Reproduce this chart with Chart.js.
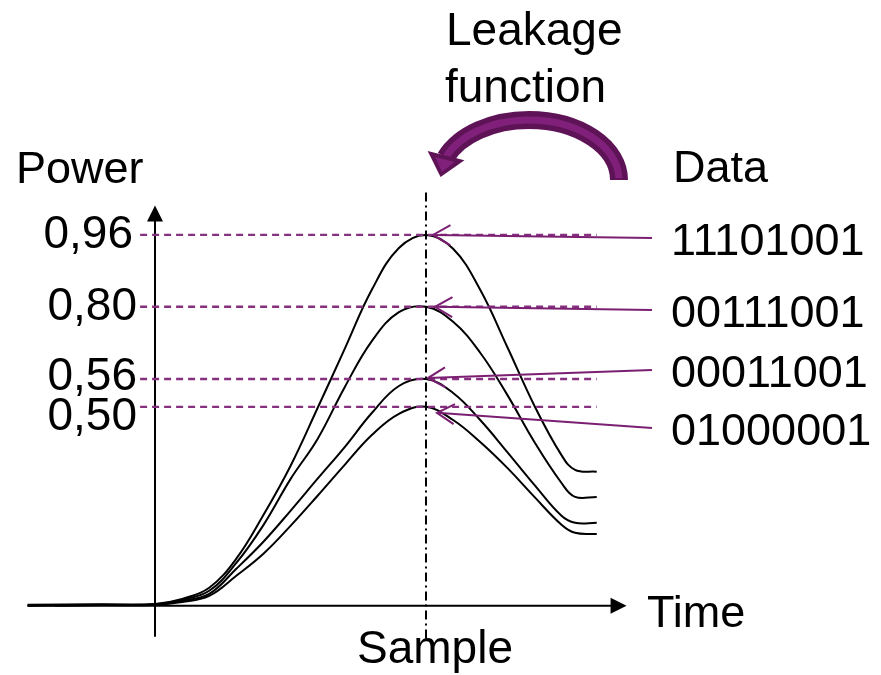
<!DOCTYPE html>
<html>
<head>
<meta charset="utf-8">
<script src="https://cdn.jsdelivr.net/npm/chart.js@4/dist/chart.umd.min.js"></script>
<style>
  body { margin: 0; background: #fff; }
  #leakage { display: block; }
</style>
</head>
<body>
<canvas id="leakage" width="881" height="675"></canvas>
<script>
// time axis (sample of interest at t = 10)
var time_points = [-4.7, -2, 0, 1, 2, 3, 4, 5, 6, 7, 8, 9, 10, 11, 12, 13, 14, 15, 15.5, 16.3];
// power traces, one per data value
var power_11101001 = [0.003, 0.004, 0.005, 0.018, 0.047, 0.122, 0.235, 0.362, 0.512, 0.665, 0.818, 0.926, 0.960, 0.924, 0.818, 0.670, 0.518, 0.390, 0.352, 0.347];
var power_00111001 = [0.001, 0.003, 0.004, 0.016, 0.039, 0.111, 0.209, 0.328, 0.432, 0.566, 0.685, 0.760, 0.774, 0.735, 0.655, 0.546, 0.424, 0.318, 0.282, 0.282];
var power_00011001 = [0.000, 0.002, 0.003, 0.013, 0.031, 0.096, 0.166, 0.246, 0.329, 0.411, 0.499, 0.569, 0.587, 0.551, 0.481, 0.398, 0.313, 0.233, 0.215, 0.215];
var power_01000001 = [0.000, 0.002, 0.003, 0.010, 0.026, 0.078, 0.135, 0.207, 0.285, 0.365, 0.442, 0.497, 0.515, 0.481, 0.424, 0.357, 0.282, 0.210, 0.189, 0.186];
var sample_time = 10;
var tick_labels = ["0,96", "0,80", "0,56", "0,50"];
var data_labels = ["11101001", "00111001", "00011001", "01000001"];

var purple = "#7b1f72";
var font = '"Liberation Sans", Arial, sans-serif';

var traces = [power_11101001, power_00111001, power_00011001, power_01000001];
var peaks = traces.map(function (t) { return t[time_points.indexOf(sample_time)]; });

var datasets = [];
// dashed level lines
for (let i = 0; i < peaks.length; i++) {
  datasets.push({
    data: [{ x: -0.55, y: peaks[i] }, { x: 16.3, y: peaks[i] }],
    borderColor: "#86307f",
    borderWidth: 2.4,
    borderDash: [7, 5],
    pointRadius: 0,
    tension: 0,
  });
}
// sample line
datasets.push({
  data: [{ x: sample_time, y: 1.07 }, { x: sample_time, y: -0.09 }],
  borderColor: "#000",
  borderWidth: 2,
  borderDash: [9, 4, 2, 4],
  pointRadius: 0,
  tension: 0,
});
for (let i = 0; i < traces.length; i++) {
  datasets.push({
    data: time_points.map(function (t, k) { return { x: t, y: traces[i][k] }; }),
    borderColor: "#000",
    borderWidth: 2,
    pointRadius: 0,
    tension: 0.4,
  });
}

function arrowHead(ctx, x, y, dx, dy, len, half) {
  var n = Math.sqrt(dx * dx + dy * dy);
  dx /= n; dy /= n;
  var bx = x - dx * len, by = y - dy * len;
  ctx.beginPath();
  ctx.moveTo(bx - dy * half, by + dx * half);
  ctx.lineTo(x, y);
  ctx.lineTo(bx + dy * half, by - dx * half);
  ctx.closePath();
  ctx.fill();
}

var decorations = {
  id: "decorations",
  beforeDatasetsDraw: function (chart) {
    var ctx = chart.ctx, xs = chart.scales.x, ys = chart.scales.y;
    var x0 = xs.getPixelForValue(0), y0 = ys.getPixelForValue(0);
    ctx.save();
    ctx.strokeStyle = "#000";
    ctx.fillStyle = "#000";
    ctx.lineWidth = 2;
    // power axis
    var yTop = ys.getPixelForValue(1.036);
    ctx.beginPath();
    ctx.moveTo(x0, ys.getPixelForValue(-0.08));
    ctx.lineTo(x0, yTop + 10);
    ctx.stroke();
    arrowHead(ctx, x0, yTop, 0, -1, 16, 8);
    // time axis
    var xEnd = xs.getPixelForValue(17.4);
    ctx.beginPath();
    ctx.moveTo(xs.getPixelForValue(-3.7), y0);
    ctx.lineTo(xEnd - 10, y0);
    ctx.stroke();
    arrowHead(ctx, xEnd, y0, 1, 0, 16, 8);
    ctx.restore();
  },
  afterDraw: function (chart) {
    var ctx = chart.ctx, ys = chart.scales.y;
    var sx = chart.scales.x.getPixelForValue(sample_time);
    ctx.save();
    ctx.fillStyle = "#000";
    ctx.font = "45px " + font;
    ctx.textAlign = "left";
    ctx.textBaseline = "alphabetic";
    ctx.fillText("Power", 16, 183);
    ctx.fillText("Data", 673, 182);
    ctx.fillText("Time", 647, 627);
    ctx.font = "46px " + font;
    ctx.fillText("Sample", 357, 663);
    ctx.fillText("Leakage", 446, 45);
    ctx.fillText("function", 445, 102);

    // level labels
    var tickShift = [13, 13, 11, 23];
    ctx.font = "46px " + font;
    ctx.textAlign = "right";
    for (let i = 0; i < tick_labels.length; i++) {
      ctx.fillText(tick_labels[i], i == 0 ? 133 : 137, ys.getPixelForValue(peaks[i]) + tickShift[i]);
    }

    // data labels with arrows to the peaks
    var labelBase = [255, 327, 387, 445];
    var tipShift = [[7, 0], [9, 0], [2, -1], [11, 6]];
    ctx.font = "45px " + font;
    ctx.textAlign = "left";
    ctx.strokeStyle = purple;
    ctx.lineWidth = 2;
    for (let i = 0; i < data_labels.length; i++) {
      ctx.fillText(data_labels[i], 671, labelBase[i]);
      var sxp = 652, syp = labelBase[i] - 17;
      var tx = sx + tipShift[i][0], ty = ys.getPixelForValue(peaks[i]) + tipShift[i][1];
      ctx.beginPath();
      ctx.moveTo(sxp, syp);
      ctx.lineTo(tx, ty);
      ctx.stroke();
      var dx = tx - sxp, dy = ty - syp, n = Math.sqrt(dx * dx + dy * dy);
      dx /= n; dy /= n;
      var a = Math.PI / 6, l = 20;
      ctx.beginPath();
      ctx.moveTo(tx - l * (dx * Math.cos(a) - dy * Math.sin(a)), ty - l * (dy * Math.cos(a) + dx * Math.sin(a)));
      ctx.lineTo(tx, ty);
      ctx.lineTo(tx - l * (dx * Math.cos(a) + dy * Math.sin(a)), ty - l * (dy * Math.cos(a) - dx * Math.sin(a)));
      ctx.stroke();
    }

    // curved "leakage function" arrow
    var cx = 529, cy = 180, rx = 90, ry = 60, endA = -158 * Math.PI / 180;
    ctx.lineCap = "butt";
    ctx.strokeStyle = "#5f1357";
    ctx.lineWidth = 18;
    ctx.beginPath();
    ctx.ellipse(cx, cy, rx, ry, 0, 0, endA, true);
    ctx.stroke();
    ctx.strokeStyle = "#80207a";
    ctx.lineWidth = 7;
    ctx.beginPath();
    ctx.ellipse(cx, cy, rx, ry, 0, -0.03, endA, true);
    ctx.stroke();
    var ex = cx + rx * Math.cos(endA), ey = cy + ry * Math.sin(endA);
    var ddx = -0.25, ddy = 0.97;
    ctx.fillStyle = "#5f1357";
    arrowHead(ctx, ex + ddx * 20, ey + ddy * 20, ddx, ddy, 22, 19);
    ctx.fillStyle = "#80207a";
    arrowHead(ctx, ex + ddx * 15, ey + ddy * 15, ddx, ddy, 13, 10);
    ctx.restore();
  },
};

var chart = new Chart(document.getElementById("leakage"), {
  type: "line",
  data: { datasets: datasets },
  options: {
    responsive: false,
    animation: false,
    devicePixelRatio: 1,
    layout: { padding: 0 },
    plugins: {
      legend: { display: false },
      tooltip: { enabled: false },
    },
    scales: {
      x: { type: "linear", min: -5.72, max: 26.79, display: false },
      y: { type: "linear", min: -0.179, max: 1.568, display: false },
    },
  },
  plugins: [decorations],
});
</script>
</body>
</html>
